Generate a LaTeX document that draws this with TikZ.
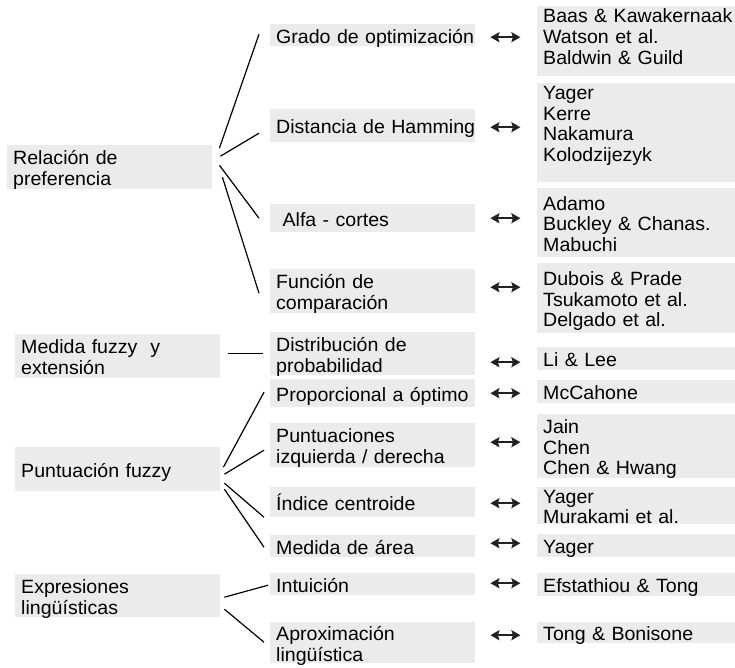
\documentclass[tikz,border=0pt]{standalone}
\usepackage{fontspec}
\usepackage{tikz}
\usetikzlibrary{arrows.meta}
\newfontfamily\diagfont{Liberation Sans}[FakeStretch=1.02]
\definecolor{boxgray}{HTML}{EBEBEB}
\definecolor{arrowdark}{HTML}{1C261E}
\tikzset{
    cell-box/.style = {fill=boxgray, anchor=north west, inner xsep=0pt, inner ysep=0pt,
        text width=#1, align=left, text height=16pt, text depth=0pt,
        font=\diagfont\fontsize{19.2}{20.6}\selectfont,
        execute at begin node={\leftskip=6pt\rightskip=-6pt plus 2em}},
    cell-box/.default = 205pt,
    n-lines/.style = {text depth={(#1-1)*20.6pt}},
    branch-line/.style = {line width=1.2pt},
    link-arrow/.style = {arrowdark, line width=2.5pt,
        {Stealth[length=9pt,width=10pt,inset=1.5pt]}-{Stealth[length=9pt,width=10pt,inset=1.5pt]}},
}

\begin{document}
\begin{tikzpicture}[x=1pt, y=-1pt]
\useasboundingbox (0,0) rectangle (735,667);

\node[cell-box, n-lines=2, minimum height=44pt] (rel) at (7,145) {Relación de\\preferencia};
\node[cell-box, n-lines=2, minimum height=44pt] (medida) at (15,334) {Medida fuzzy~ y\\extensión};
\node[cell-box, minimum height=44pt] (punt) at (15,447) {Puntuación fuzzy};
\node[cell-box, n-lines=2, minimum height=43pt] (expr) at (15,574) {Expresiones\\lingüísticas};

\node[cell-box, minimum height=22pt] (grado) at (270,24) {Grado de optimización};
\node[cell-box, minimum height=33pt] (hamming) at (270,109) {Distancia de Hamming};
\node[cell-box, minimum height=28pt] (alfa) at (270,204) {~Alfa - cortes};
\node[cell-box, n-lines=2, minimum height=44pt] (funcion) at (270,269) {Función de\\comparación};
\node[cell-box, n-lines=2, minimum height=43pt] (distrib) at (270,332) {Distribución de\\probabilidad};
\node[cell-box, minimum height=28pt] (propor) at (270,379) {Proporcional a óptimo};
\node[cell-box, n-lines=2, minimum height=44pt] (puntizq) at (270,423) {Puntuaciones\\izquierda / derecha};
\node[cell-box, minimum height=30pt] (indice) at (270,487) {Índice centroide};
\node[cell-box, minimum height=22pt] (area) at (270,535) {Medida de área};
\node[cell-box, minimum height=22pt] (intuic) at (270,573) {Intuición};
\node[cell-box, n-lines=2, minimum height=41pt] (aprox) at (270,622) {Aproximación\\lingüística};

\node[cell-box=198pt, text depth=52.6pt, minimum height=70pt] (baas) at (537,6) {Baas \& Kawakernaak\\Watson et al.\\Baldwin \& Guild};
\node[cell-box=198pt, text depth=82.4pt, minimum height=99pt] (yager) at (537,83) {Yager\\Kerre\\Nakamura\\Kolodzijezyk};
\node[cell-box=198pt, n-lines=3, minimum height=69pt] (adamo) at (537,188) {Adamo\\Buckley \& Chanas.\\Mabuchi};
\node[cell-box=198pt, n-lines=3, minimum height=70pt] (dubois) at (537,263) {Dubois \& Prade\\Tsukamoto et al.\\Delgado et al.};
\node[cell-box=198pt, minimum height=23pt] (lilee) at (537,347) {Li \& Lee};
\node[cell-box=198pt, minimum height=23pt] (mccahone) at (537,380) {McCahone};
\node[cell-box=198pt, n-lines=3, minimum height=64pt] (jain) at (537,414) {Jain\\Chen\\Chen \& Hwang};
\node[cell-box=198pt, n-lines=2, minimum height=36pt] (murakami) at (537,487) {Yager\\Murakami et al.};
\node[cell-box=198pt, minimum height=23pt] (yagerarea) at (537,534) {Yager};
\node[cell-box=198pt, minimum height=23pt] (efstath) at (537,573) {Efstathiou \& Tong};
\node[cell-box=198pt, minimum height=21pt] (tong) at (537,622) {Tong \& Bonisone};

\draw[branch-line] ([shift={(7,-19)}]rel.east) -- ([shift={(-11,-1)}]grado.west);
\draw[branch-line] ([shift={(8,-11)}]rel.east) -- ([shift={(-11,7.5)}]hamming.west);
\draw[branch-line] ([shift={(7,-2)}]rel.east) -- ([shift={(-11,0)}]alfa.west);
\draw[branch-line] ([shift={(10,10)}]rel.east) -- ([shift={(-11,2)}]funcion.west);
\draw[branch-line] ([shift={(8,-3)}]medida.east) -- ([shift={(-7,-0.5)}]distrib.west);
\draw[branch-line] ([shift={(3,-2)}]punt.east) -- ([shift={(-6,-1)}]propor.west);
\draw[branch-line] ([shift={(4,5)}]punt.east) -- ([shift={(-6,5)}]puntizq.west);
\draw[branch-line] ([shift={(4,14)}]punt.east) -- ([shift={(-6,15)}]indice.west);
\draw[branch-line] ([shift={(4,20)}]punt.east) -- ([shift={(-6,1)}]area.west);
\draw[branch-line] ([shift={(4,1.5)}]expr.east) -- ([shift={(-2,1)}]intuic.west);
\draw[branch-line] ([shift={(4,13.5)}]expr.east) -- ([shift={(-6,-0.5)}]aprox.west);

\foreach \mid/\dy in {grado/-2pt, hamming/-1.5pt, alfa/0pt, funcion/4pt, distrib/-8.5pt,
    propor/0pt, puntizq/3pt, indice/-1pt, area/3pt, intuic/1pt, aprox/7.5pt}
    \draw[link-arrow] ([xshift=15pt, yshift=\dy]\mid.east) -- ++(30pt,0);
\end{tikzpicture}
\end{document}
